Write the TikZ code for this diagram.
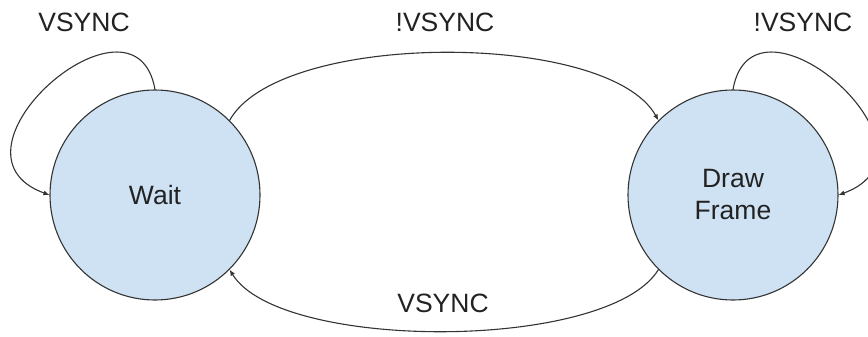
\documentclass[tikz,border=0pt]{standalone}
\usepackage{fontspec}
\setmainfont{Liberation Sans}
\usetikzlibrary{arrows.meta}
\definecolor{statefill}{HTML}{CFE2F3}
\definecolor{inkline}{HTML}{333333}
\definecolor{inktext}{HTML}{222222}
\begin{document}
\begin{tikzpicture}[x=1pt,y=1pt,
  state/.style={circle,draw=inkline,line width=1.1pt,fill=statefill,
    minimum size=210pt,inner sep=0pt,font=\fontsize{26.5}{32}\selectfont,
    text=inktext,align=center},
  edge/.style={draw=inkline,line width=1.1pt,
    -{Latex[length=6pt,width=5pt]}},
  lbl/.style={font=\fontsize{26.5}{32}\selectfont,text=inktext,inner sep=0pt}]
\useasboundingbox (0,0) rectangle (868,-337);

% the two states
\node[state] (wait) at (155,-195) {Wait};
\node[state] (draw) at (733,-195) {Draw\\Frame};

% transitions between the states
\draw[edge] (wait.45) .. controls +(50,90) and +(-50,90) .. (draw.135);
\draw[edge] (draw.-135) .. controls +(-50,-82) and +(50,-82) .. (wait.-45);

% self loops
\draw[edge] (wait.north) .. controls +(100:115) and +(160:125) .. (wait.west);
\draw[edge] (draw.north) .. controls +(80:115) and +(20:125) .. (draw.east);

% transition labels
\node[lbl] (l1) at (84,-22) {VSYNC};
\node[lbl] (l2) at (445,-22) {!VSYNC};
\node[lbl] (l3) at (803,-22) {!VSYNC};
\node[lbl] (l4) at (443,-303) {VSYNC};
\end{tikzpicture}
\end{document}
